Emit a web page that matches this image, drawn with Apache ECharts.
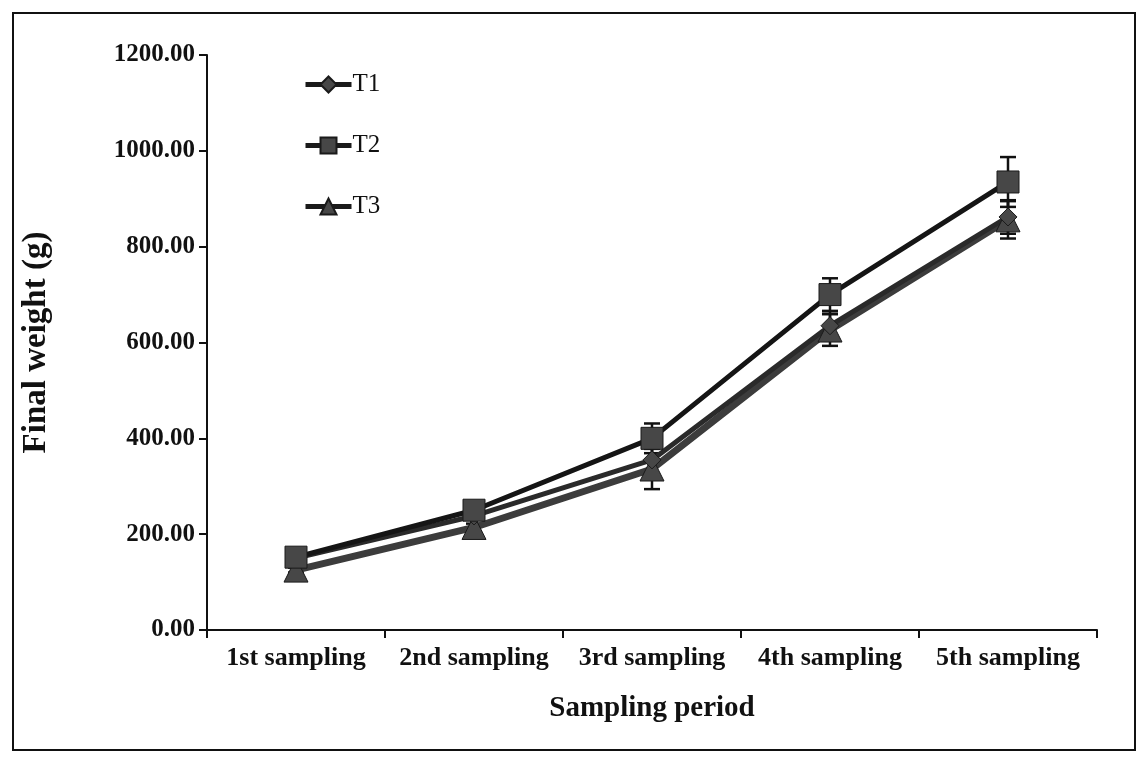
<!DOCTYPE html>
<html>
<head>
<meta charset="utf-8">
<script src="https://cdn.jsdelivr.net/npm/echarts@6/dist/echarts.min.js"></script>
<style>
html,body{margin:0;padding:0;background:#fff;}
#main{width:1147px;height:784px;}
</style>
</head>
<body>
<div id="main"></div>
<script>
const categories = ['1st sampling', '2nd sampling', '3rd sampling', '4th sampling', '5th sampling'];
const seriesNames = ['T1', 'T2', 'T3'];
const t1Values = [150, 238, 355, 635, 862];
const t2Values = [152, 250, 400, 700, 935];
const t3Values = [125, 214, 336, 626, 856];
const t1Errors = [5, 8, 30, 30, 35];
const t2Errors = [5, 8, 31, 34, 52];
const t3Errors = [5, 8, 42, 33, 39];
const yTicks = [0, 200, 400, 600, 800, 1000, 1200];

const FONT = '"Liberation Serif", "Times New Roman", serif';
const chart = echarts.init(document.getElementById('main'));

function errorSeries(name, values, errors, color) {
  return {
    type: 'custom',
    name: name + ' err',
    z: 1,
    silent: true,
    data: values.map((v, i) => [i, v, errors[i]]),
    renderItem: function (params, api) {
      const x = api.value(0), v = api.value(1), e = api.value(2);
      const hi = api.coord([x, v + e]);
      const lo = api.coord([x, v - e]);
      const w = 8;
      return {
        type: 'group',
        children: [
          {type: 'line', shape: {x1: hi[0], y1: hi[1], x2: lo[0], y2: lo[1]}, style: {stroke: color, lineWidth: 2.5}},
          {type: 'line', shape: {x1: hi[0] - w, y1: hi[1], x2: hi[0] + w, y2: hi[1]}, style: {stroke: color, lineWidth: 2.5}},
          {type: 'line', shape: {x1: lo[0] - w, y1: lo[1], x2: lo[0] + w, y2: lo[1]}, style: {stroke: color, lineWidth: 2.5}}
        ]
      };
    }
  };
}

function lineSeries(name, values, symbol, size, lineColor, lineWidth) {
  return {
    type: 'line',
    name: name,
    z: 3,
    data: values,
    symbol: symbol,
    symbolSize: size,
    showAllSymbol: true,
    lineStyle: {color: lineColor, width: lineWidth},
    itemStyle: {color: '#474747', borderColor: '#1a1a1a', borderWidth: 1},
    emphasis: {disabled: true}
  };
}

chart.setOption({
  animation: false,
  backgroundColor: '#fff',
  graphic: [{
    type: 'rect',
    shape: {x: 13, y: 13, width: 1122, height: 737},
    style: {fill: 'none', stroke: '#111', lineWidth: 2},
    silent: true
  }],
  legend: {
    data: seriesNames,
    orient: 'vertical',
    left: 298,
    top: 67,
    itemGap: 36,
    itemWidth: 46,
    itemHeight: 20,
    lineStyle: {width: 5, color: '#1a1a1a'},
    textStyle: {fontFamily: FONT, fontSize: 25, color: '#111', padding: [0, 0, 0, -4]},
    selectedMode: false
  },
  grid: {left: 207, right: 50, top: 55, bottom: 154},
  xAxis: {
    type: 'category',
    data: categories,
    boundaryGap: true,
    axisLine: {lineStyle: {color: '#111', width: 2}},
    axisTick: {show: true, length: 8, alignWithLabel: false, lineStyle: {color: '#111', width: 2}},
    axisLabel: {fontFamily: FONT, fontWeight: 'bold', fontSize: 26, color: '#111', margin: 15, interval: 0},
    name: 'Sampling period',
    nameLocation: 'middle',
    nameGap: 64,
    nameTextStyle: {fontFamily: FONT, fontWeight: 'bold', fontSize: 29, color: '#111'}
  },
  yAxis: {
    type: 'value',
    min: yTicks[0],
    max: yTicks[yTicks.length - 1],
    interval: yTicks[1] - yTicks[0],
    splitLine: {show: false},
    axisLine: {show: true, lineStyle: {color: '#111', width: 2}},
    axisTick: {show: true, length: 8, lineStyle: {color: '#111', width: 2}},
    axisLabel: {
      fontFamily: FONT, fontWeight: 'bold', fontSize: 25, color: '#111', margin: 12,
      formatter: v => v.toFixed(2)
    },
    name: 'Final weight (g)',
    nameLocation: 'middle',
    nameGap: 154,
    nameRotate: 90,
    nameTextStyle: {fontFamily: FONT, fontWeight: 'bold', fontSize: 33, color: '#111'}
  },
  series: [
    errorSeries('T1', t1Values, t1Errors, '#111'),
    errorSeries('T2', t2Values, t2Errors, '#111'),
    errorSeries('T3', t3Values, t3Errors, '#111'),
    lineSeries('T3', t3Values, 'triangle', 24, '#3c3c3c', 7),
    lineSeries('T1', t1Values, 'diamond', 18, '#2a2a2a', 5),
    lineSeries('T2', t2Values, 'rect', 22, '#151515', 5)
  ]
});
</script>
</body>
</html>
